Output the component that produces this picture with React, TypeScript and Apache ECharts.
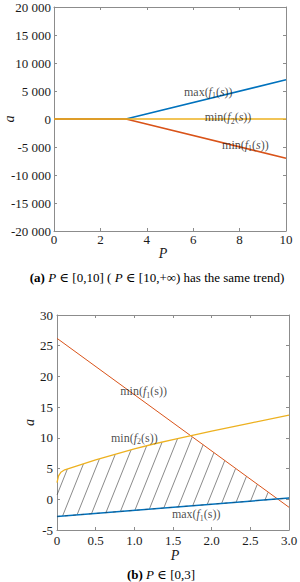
import React, { useEffect, useRef } from "react";
import * as echarts from "echarts";

// ---------- Data: panel (a) ----------
const topP = [0, 3.1, 10];
const topMaxF1 = [0, 0, 7000];
const topMinF2 = [0, 0, 0];
const topMinF1 = [0, 0, -7000];

// ---------- Data: panel (b) ----------
const botPLin = [0, 3];
const botMinF1 = [26.2, -1.3];
const botMaxF1 = [-2.8, 0.2];
const botPF2 = [0, 0.02, 0.05, 0.1, 0.25, 0.5, 0.75, 1.0, 1.25, 1.5, 1.75, 2.0, 2.5, 3.0];
const botMinF2 = [2.7, 3.8, 4.4, 4.8, 5.4, 6.4, 7.3, 8.2, 9.0, 9.7, 10.4, 11.1, 12.4, 13.7];

const FONT = "'Liberation Serif', 'DejaVu Serif', serif";
const C_BLUE = "#0072BD";
const C_RED = "#D95319";
const C_YEL = "#EDB120";
const AXIS_C = "#8c8c8c";
const TXT = "#1a1a1a";

const zip = (xs: number[], ys: number[]) => xs.map((x, i) => [x, ys[i]]);
const interp = (xs: number[], ys: number[], x: number) => {
  if (x <= xs[0]) return ys[0];
  for (let i = 1; i < xs.length; i++) {
    if (x <= xs[i]) {
      const t = (x - xs[i - 1]) / (xs[i] - xs[i - 1]);
      return ys[i - 1] + t * (ys[i] - ys[i - 1]);
    }
  }
  return ys[ys.length - 1];
};

const mkRich = (fs: number) => ({
  n: { fontFamily: FONT, fontSize: fs, color: TXT, lineHeight: fs + 4 },
  i: { fontFamily: FONT, fontSize: fs, color: TXT, fontStyle: "italic", lineHeight: fs + 4 },
  s: { fontFamily: FONT, fontSize: Math.round(fs * 0.68), color: TXT, lineHeight: fs + 4, verticalAlign: "bottom" },
  b: { fontFamily: FONT, fontSize: fs, color: TXT, fontWeight: "bold", lineHeight: fs + 4 },
});
const richLbl = mkRich(12);
const richCap = mkRich(13);

const fnLabel = (op: string, idx: string, italicS: boolean) =>
  `{n|${op}(}{i|f}{s|${idx}}` + (italicS ? `{n|(}{i|s}{n|))}` : `{n|(s))}`);

const thousands = (v: number) => {
  const s = Math.abs(v).toString().replace(/\B(?=(\d{3})+(?!\d))/g, " ");
  return (v < 0 ? "-" : "") + s;
};

const axisCommon = {
  axisLine: { show: true, onZero: false, lineStyle: { color: AXIS_C, width: 1 } },
  axisTick: { show: true, inside: true, length: 3, lineStyle: { color: AXIS_C } },
  splitLine: { show: false },
  nameMoveOverlap: false,
};
const labelStyle = { color: TXT, fontFamily: FONT, fontSize: 13 };
const nameStyle = { fontFamily: FONT, fontSize: 14, fontStyle: "italic", color: TXT };

const labelSeries = (xi: number, yi: number, x: number, y: number, text: string) => ({
  type: "scatter",
  xAxisIndex: xi,
  yAxisIndex: yi,
  symbolSize: 0.01,
  silent: true,
  data: [[x, y]],
  label: { show: true, position: "inside", formatter: text, rich: richLbl },
  z: 10,
});

export default function App() {
  const ref = useRef<HTMLDivElement>(null);
  useEffect(() => {
    document.body.style.margin = "0";
    const chart = echarts.init(ref.current!, null, { renderer: "svg" });

    const hatchRender = (params: any, api: any) => {
      const o = api.coord([0, 0]);
      const u = api.coord([1, 1]);
      const sx = u[0] - o[0];
      const sy = u[1] - o[1];
      const pMax = botPLin[botPLin.length - 1];
      const inside = (px: number, py: number) => {
        const P = (px - o[0]) / sx;
        const a = (py - o[1]) / sy;
        if (P < 0 || P > pMax) return false;
        const lo = interp(botPLin, botMaxF1, P);
        const hi = Math.min(interp(botPF2, botMinF2, P), interp(botPLin, botMinF1, P));
        return a >= lo && a <= hi;
      };
      const k = 0.4;
      const pyTop = api.coord([0, 30])[1];
      const pyBot = api.coord([0, -5])[1];
      const pxL = o[0];
      const pxR = o[0] + pMax * sx;
      const cMin = pxL + k * pyTop;
      const cMax = pxR + k * pyBot;
      const children: any[] = [];
      const step = 14;
      const c0 = Math.floor(cMin / step) * step + 3;
      for (let c = c0; c <= cMax; c += step) {
        let first: number[] | null = null;
        let last: number[] | null = null;
        for (let py = pyBot; py >= pyTop; py -= 0.4) {
          const px = c - k * py;
          if (inside(px, py)) {
            if (!first) first = [px, py];
            last = [px, py];
          } else if (first) break;
        }
        if (first && last && Math.abs(first[1] - last[1]) > 1) {
          children.push({
            type: "line",
            shape: { x1: first[0], y1: first[1], x2: last[0], y2: last[1] },
            style: { stroke: "#3a3a3a", lineWidth: 0.6 },
          });
        }
      }
      return { type: "group", children };
    };

    chart.setOption({
      animation: false,
      textStyle: { fontFamily: FONT },
      grid: [
        { left: 54, right: 14, top: 7, bottom: 351, outerBoundsMode: "none", containLabel: false },
        { left: 57, right: 11, top: 315, bottom: 52, outerBoundsMode: "none", containLabel: false },
      ],
      xAxis: [
        {
          gridIndex: 0, type: "value", position: "bottom", min: 0, max: 10, interval: 2,
          ...axisCommon,
          axisLabel: { ...labelStyle, margin: 2 },
          name: "P", nameLocation: "middle", nameGap: 15,
          nameTextStyle: { ...nameStyle, padding: [0, 14, 0, 0] },
        },
        {
          gridIndex: 0, type: "value", position: "top", min: 0, max: 10, interval: 2,
          ...axisCommon, axisLabel: { show: false },
        },
        {
          gridIndex: 1, type: "value", position: "bottom", min: 0, max: 3, interval: 0.5,
          ...axisCommon,
          axisLabel: { ...labelStyle, margin: 4, formatter: (v: number) => (v === 0 ? "0" : v.toFixed(1)) },
          name: "P", nameLocation: "middle", nameGap: 18,
          nameTextStyle: { ...nameStyle, padding: [0, 0, 0, 4] },
        },
        {
          gridIndex: 1, type: "value", position: "top", min: 0, max: 3, interval: 0.5,
          ...axisCommon, axisLabel: { show: false },
        },
      ],
      yAxis: [
        {
          gridIndex: 0, type: "value", position: "left", min: -20000, max: 20000, interval: 5000,
          ...axisCommon,
          axisLabel: { ...labelStyle, margin: 3, formatter: (v: number) => thousands(v) },
          name: "a", nameLocation: "middle", nameGap: 38, nameRotate: 90,
          nameTextStyle: nameStyle,
        },
        {
          gridIndex: 0, type: "value", position: "right", min: -20000, max: 20000, interval: 5000,
          ...axisCommon, axisLabel: { show: false },
        },
        {
          gridIndex: 1, type: "value", position: "left", min: -5, max: 30, interval: 5,
          ...axisCommon,
          axisLabel: { ...labelStyle, margin: 4 },
          name: "a", nameLocation: "middle", nameGap: 21, nameRotate: 90,
          nameTextStyle: nameStyle,
        },
        {
          gridIndex: 1, type: "value", position: "right", min: -5, max: 30, interval: 5,
          ...axisCommon, axisLabel: { show: false },
        },
      ],
      series: [
        // panel (a)
        { type: "line", xAxisIndex: 0, yAxisIndex: 0, data: zip(topP, topMaxF1), showSymbol: false, lineStyle: { color: C_BLUE, width: 1.5 } },
        { type: "line", xAxisIndex: 0, yAxisIndex: 0, data: zip(topP, topMinF1), showSymbol: false, lineStyle: { color: C_RED, width: 1.5 } },
        { type: "line", xAxisIndex: 0, yAxisIndex: 0, data: zip(topP, topMinF2), showSymbol: false, lineStyle: { color: C_YEL, width: 1.5 } },
        labelSeries(0, 0, 6.65, 4900, fnLabel("max", "1", true)),
        labelSeries(0, 0, 7.5, 300, fnLabel("min", "2", true)),
        labelSeries(0, 0, 8.25, -4600, fnLabel("min", "1", true)),
        // panel (b)
        { type: "custom", xAxisIndex: 2, yAxisIndex: 2, data: [[0, 0]], renderItem: hatchRender, silent: true, z: 1 },
        { type: "line", xAxisIndex: 2, yAxisIndex: 2, data: zip(botPLin, botMinF1), showSymbol: false, lineStyle: { color: C_RED, width: 1 }, z: 3 },
        { type: "line", xAxisIndex: 2, yAxisIndex: 2, data: zip(botPF2, botMinF2), showSymbol: false, smooth: false, lineStyle: { color: C_YEL, width: 1.3 }, z: 3 },
        { type: "line", xAxisIndex: 2, yAxisIndex: 2, data: zip(botPLin, botMaxF1), showSymbol: false, lineStyle: { color: C_BLUE, width: 1.5 }, z: 3 },
        { type: "line", xAxisIndex: 2, yAxisIndex: 2, data: zip(botPLin, botMaxF1), showSymbol: false, lineStyle: { color: "#2a3a4a", width: 0.5, type: [3, 5] }, z: 4 },
        labelSeries(2, 2, 1.12, 17.6, fnLabel("min", "1", false)),
        labelSeries(2, 2, 1.0, 10.0, fnLabel("min", "2", false)),
        labelSeries(2, 2, 1.8, -2.4, fnLabel("max", "1", false)),
      ],
      graphic: [
        {
          type: "text", x: 157, y: 277,
          style: {
            text: "{b|(a)} {i|P} {n|∈ [0,10] (} {i|P} {n|∈ [10,+∞) has the same trend)}",
            rich: richCap, align: "center", verticalAlign: "middle",
          },
        },
        {
          type: "text", x: 161, y: 574,
          style: {
            text: "{b|(b)} {i|P} {n|∈ [0,3]}",
            rich: richCap, align: "center", verticalAlign: "middle",
          },
        },
      ],
    });
    return () => chart.dispose();
  }, []);
  return <div ref={ref} style={{ width: 300, height: 582 }} />;
}
